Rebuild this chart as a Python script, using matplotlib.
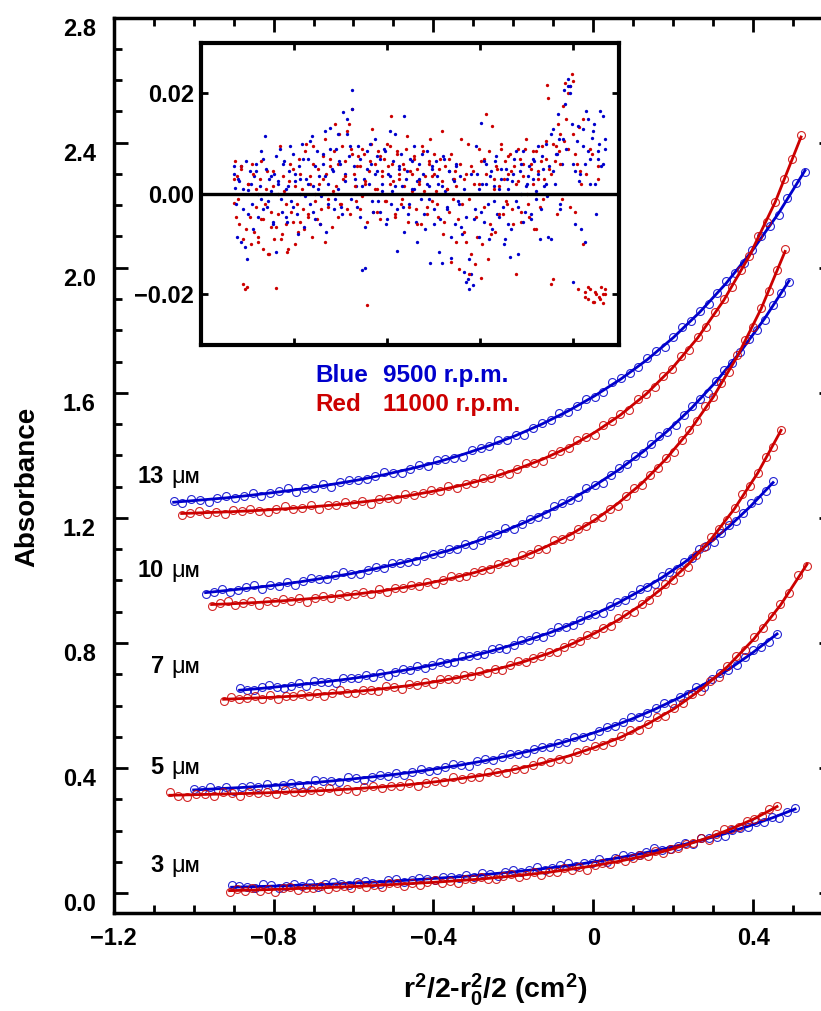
import matplotlib
matplotlib.use('Agg')
import matplotlib.pyplot as plt
from matplotlib.ticker import MultipleLocator
import numpy as np

plt.rcParams['font.family'] = ['Liberation Sans', 'DejaVu Sans']
plt.rcParams['font.weight'] = 'bold'
plt.rcParams['mathtext.fontset'] = 'custom'
plt.rcParams['mathtext.rm'] = 'Liberation Sans:bold'
plt.rcParams['mathtext.it'] = 'Liberation Sans:bold'
plt.rcParams['mathtext.bf'] = 'Liberation Sans:bold'

BLUE = '#0000CC'
RED = '#CC0000'

# ---- data (absorbance x1000), x = r^2/2 - r0^2/2 (cm^2) ----
# blue = 9500 rpm, red = 11000 rpm
b13_span = (-1.05, 0.53)
b13_fit = [1250, 1257, 1264, 1273, 1283, 1294, 1307, 1321, 1338, 1357, 1378, 1403, 1431,
           1463, 1500, 1542, 1590, 1644, 1706, 1777, 1858, 1950, 2055, 2175, 2311]
b13_pts = [1253, 1248, 1261, 1256, 1252, 1264, 1269, 1264, 1270, 1281, 1271, 1278, 1287,
           1294, 1284, 1295, 1295, 1308, 1299, 1314, 1322, 1320, 1323, 1335, 1347, 1342,
           1345, 1357, 1368, 1366, 1385, 1387, 1392, 1396, 1417, 1424, 1430, 1448, 1448,
           1466, 1466, 1488, 1504, 1512, 1535, 1537, 1559, 1579, 1587, 1602, 1634, 1646,
           1664, 1681, 1712, 1733, 1746, 1777, 1809, 1829, 1862, 1883, 1920, 1957, 1982,
           2015, 2057, 2101, 2134, 2167, 2223, 2271, 2307]

b10_span = (-0.97, 0.49)
b10_fit = [961, 969, 977, 986, 997, 1009, 1022, 1038, 1055, 1074, 1096, 1121, 1149, 1181,
           1217, 1257, 1303, 1354, 1412, 1478, 1552, 1636, 1731, 1838, 1958]
b10_pts = [958, 964, 974, 964, 970, 978, 984, 974, 984, 983, 995, 985, 999, 1007, 1004,
           1005, 1016, 1027, 1020, 1021, 1033, 1042, 1039, 1056, 1056, 1058, 1061, 1079,
           1083, 1088, 1102, 1100, 1116, 1112, 1130, 1144, 1147, 1167, 1165, 1182, 1198,
           1202, 1211, 1238, 1246, 1256, 1268, 1294, 1306, 1313, 1337, 1359, 1371, 1397,
           1406, 1435, 1463, 1475, 1498, 1529, 1558, 1579, 1600, 1639, 1673, 1695, 1731,
           1773, 1800, 1833, 1882, 1919, 1955]

b7_span = (-0.885, 0.45)
b7_fit = [649, 655, 662, 669, 677, 686, 696, 708, 720, 734, 750, 768, 788, 810, 834, 862,
          893, 927, 966, 1009, 1057, 1111, 1171, 1238, 1313]
b7_pts = [655, 650, 649, 658, 666, 658, 656, 664, 671, 664, 679, 675, 674, 673, 688, 688,
          688, 699, 692, 703, 695, 708, 716, 714, 727, 720, 730, 739, 736, 739, 758, 758,
          761, 764, 781, 784, 781, 795, 808, 808, 822, 820, 835, 850, 850, 857, 874, 889,
          892, 896, 919, 932, 936, 953, 972, 978, 990, 1013, 1026, 1038, 1060, 1071, 1099,
          1110, 1124, 1153, 1176, 1190, 1216, 1246, 1258, 1286, 1317]

b5_span = (-1.0, 0.46)
b5_fit = [330, 334, 338, 343, 348, 354, 361, 369, 377, 387, 398, 410, 424, 440, 458, 478,
          501, 527, 556, 589, 626, 668, 715, 769, 829]
b5_pts = [332, 330, 339, 330, 338, 328, 338, 344, 339, 350, 340, 347, 353, 347, 346, 362,
          358, 358, 357, 370, 369, 362, 372, 379, 375, 384, 378, 388, 398, 391, 393, 404,
          412, 409, 407, 422, 429, 425, 435, 446, 444, 447, 462, 466, 468, 481, 482, 499,
          500, 503, 520, 532, 534, 546, 564, 562, 576, 593, 608, 608, 627, 637, 659, 660,
          686, 705, 714, 729, 754, 778, 787, 803, 829]

b3_span = (-0.905, 0.505)
b3_fit = [19, 21, 23, 26, 28, 32, 35, 39, 44, 49, 54, 61, 68, 76, 85, 95, 107, 120, 135,
          151, 169, 190, 214, 240, 269]
b3_pts = [27, 22, 19, 17, 28, 25, 16, 24, 30, 24, 31, 21, 29, 36, 28, 27, 35, 40, 34, 28,
          41, 44, 37, 42, 50, 44, 42, 53, 52, 49, 57, 52, 65, 60, 56, 68, 73, 68, 73, 84,
          74, 80, 89, 95, 86, 96, 96, 108, 99, 113, 122, 119, 121, 133, 144, 138, 140, 151,
          161, 158, 176, 177, 180, 183, 203, 208, 213, 229, 227, 243, 241, 259, 273]

r13_span = (-1.03, 0.52)
r13_fit = [1214, 1217, 1220, 1224, 1229, 1235, 1242, 1251, 1261, 1274, 1289, 1307, 1329,
           1356, 1388, 1426, 1473, 1529, 1596, 1678, 1776, 1895, 2038, 2210, 2418]
r13_pts = [1209, 1217, 1223, 1214, 1218, 1211, 1224, 1222, 1229, 1222, 1220, 1230, 1237,
           1227, 1233, 1240, 1230, 1242, 1241, 1251, 1245, 1255, 1245, 1259, 1264, 1260,
           1277, 1272, 1279, 1289, 1285, 1303, 1295, 1309, 1313, 1326, 1326, 1344, 1340,
           1357, 1376, 1375, 1383, 1404, 1413, 1422, 1448, 1459, 1465, 1497, 1509, 1532,
           1545, 1581, 1596, 1620, 1655, 1676, 1719, 1738, 1777, 1809, 1858, 1901, 1939,
           1992, 2037, 2100, 2147, 2210, 2283, 2346, 2425]

r10_span = (-0.955, 0.48)
r10_fit = [923, 926, 930, 935, 941, 948, 956, 965, 977, 990, 1006, 1025, 1048, 1075, 1108,
           1146, 1191, 1246, 1310, 1387, 1478, 1587, 1716, 1869, 2052]
r10_pts = [917, 927, 933, 922, 927, 934, 923, 934, 932, 941, 934, 943, 932, 944, 949, 943,
           958, 951, 956, 964, 958, 973, 963, 975, 976, 985, 983, 996, 988, 1002, 1015,
           1010, 1014, 1028, 1033, 1036, 1054, 1059, 1058, 1080, 1085, 1100, 1102, 1128,
           1133, 1143, 1165, 1174, 1199, 1204, 1229, 1239, 1270, 1295, 1306, 1338, 1360,
           1392, 1411, 1448, 1482, 1511, 1558, 1585, 1631, 1668, 1722, 1770, 1810, 1871,
           1925, 1993, 2059]

r7_span = (-0.925, 0.47)
r7_fit = [620, 623, 626, 630, 635, 641, 647, 655, 664, 675, 688, 703, 721, 742, 767, 797,
          832, 874, 923, 982, 1051, 1133, 1230, 1344, 1480]
r7_pts = [615, 628, 620, 623, 629, 621, 634, 621, 631, 629, 636, 630, 641, 630, 640, 650,
          641, 640, 650, 650, 648, 661, 660, 653, 669, 667, 674, 669, 686, 684, 685, 697,
          696, 711, 704, 716, 714, 731, 741, 738, 752, 758, 772, 771, 787, 801, 806, 827,
          830, 847, 855, 880, 893, 899, 925, 938, 964, 989, 1002, 1028, 1043, 1082, 1107,
          1139, 1163, 1192, 1233, 1276, 1302, 1344, 1394, 1428, 1482]

r5_span = (-1.06, 0.535)
r5_fit = [313, 315, 317, 319, 322, 325, 329, 334, 340, 347, 356, 367, 380, 396, 415, 438,
          466, 499, 541, 590, 651, 724, 813, 921, 1052]
r5_pts = [322, 312, 309, 318, 316, 312, 323, 320, 310, 324, 319, 324, 316, 330, 324, 322,
          330, 326, 337, 326, 333, 327, 339, 344, 336, 344, 344, 352, 344, 353, 360, 357,
          370, 365, 372, 371, 386, 388, 383, 398, 397, 411, 422, 420, 430, 430, 451, 458,
          472, 475, 482, 502, 521, 523, 541, 562, 567, 592, 609, 637, 648, 679, 691, 725,
          757, 778, 820, 847, 885, 926, 961, 1016, 1046]

r3_span = (-0.91, 0.46)
r3_fit = [8, 10, 12, 15, 17, 20, 23, 27, 31, 35, 40, 45, 52, 59, 67, 77, 88, 101, 116, 133,
          154, 178, 206, 238, 277]
r3_pts = [5, 13, 7, 18, 6, 12, 5, 16, 20, 11, 18, 15, 22, 12, 19, 24, 18, 29, 21, 25, 21,
          33, 31, 22, 33, 27, 36, 42, 34, 38, 32, 46, 44, 51, 45, 44, 55, 62, 53, 59, 67,
          57, 69, 69, 80, 74, 85, 75, 89, 95, 92, 108, 104, 111, 121, 118, 135, 127, 142,
          146, 158, 159, 176, 171, 188, 206, 204, 212, 230, 238, 247, 270, 279]

conc_labels = ['13', '10', '7', '5', '3']

# residuals (absorbance x 10^4) across the cell, radius 6.735 - 7.135 cm
res_span = (6.735, 7.135)
blue_res = [40, 12, -85, 25, 55, -30, -105, -130, 8, 45,
            -20, 35, 60, -45, 15, -10, 70, 116, -25, 30,
            5, -60, 40, -115, 20, 90, -35, 65, 10, -55,
            45, -15, 80, 25, -40, 55, 0, 100, -65, 30,
            70, -20, 115, 15, -50, 85, 35, -5, 60, 125,
            -75, 20, 132, 50, -30, 90, 10, 65, -25, 164,
            40, 120, 75, -10, 206, 55, 15, 95, -45, -151,
            30, -148, 85, 20, 60, -35, 110, 45, -15, 70,
            5, 90, -60, 40, 125, -20, 65, 15, -113, 50,
            80, -25, 156, 30, -40, 70, 10, 95, -55, 25,
            60, -10, 40, -70, 85, 15, -137, 50, -30, 65,
            20, -50, -137, 75, 5, -25, 45, -128, 30, -60,
            55, -15, 35, -80, 10, -45, -170, -190, -160, -182,
            -30, 40, -85, 142, 20, -55, 60, -20, 35, -70,
            15, 65, -40, 10, 50, -25, -90, 30, -60, -125,
            25, 70, -15, -120, 45, 0, 85, -35, 20, 55,
            -50, 30, 65, -10, 40, -90, 75, 15, 100, -5,
            55, -90, 130, 20, 80, 110, -30, 60, 206, 90,
            228, 215, 140, -175, 45, 105, 25, -70, 130, 60,
            166, 85, 20, 112, 140, -40, 70, 100, 55, 156,
            90]
blue_res2 = [55, -20, 30, -95, 10, 65, -40, 20, -70, 45,
             0, 85, -30, 50, -15, 35, -55, 75, 25, -10,
             60, -45, 15, 95, -25, 40, -80, 30, 70, -5,
             20, 105, -35, 55, 10, -60, 80, 35, -20, 90,
             45, -10, 120, 60, -40, 25, 150, 95, 170, 30,
             -25, 70, 15, -65, 50, 100, -15, 40, 75, -35,
             20, 85, -50, 35, 5, 120, -30, 55, 15, -75,
             45, -20, 65, 10, -95, 30, 80, -40, 20, -10,
             55, -60, 35, -115, 15, 70, -30, 45, -85, 25,
             60, -20, -65, -155, -175, -130, 40, -50, 95, 10,
             -35, 65, 20, -90, 45, -15, 75, -45, 30, -100,
             50, 10, -70, 40, 85, -25, 60, -55, 15, 35,
             -40, 70, 5, 95, -30, 50, 20, -85, 120, 45,
             80, 160, -20, 110, 180, 215, 200, 60, -60, 135,
             40, 95, -95, 150, 70, 125, 20, 85, 165, 60,
             110]
red_res = [-18, 66, 35, -60, 50, -90, -190, -185, 20, -45,
           60, -75, 10, -95, 30, -50, -110, -20, 45, -120,
           -65, 15, -90, -187, -40, 96, -80, 5, -60, -115,
           25, -35, 50, -100, -20, 70, -55, 10, -70, 100,
           -40, 35, -85, 60, 0, -50, 20, -30, 75, -95,
           40, -10, 55, -65, 85, 15, -45, 120, -20, 30,
           65, -30, 140, 90, 170, 40, -15, 75, 55, -5,
           80, 20, -220, 45, 100, -35, 60, 10, 85, -50,
           35, 70, -15, 55, 95, 155, 25, -40, 80, 40,
           -20, 60, 15, 90, -55, 45, 5, 75, -30, 50,
           20, -60, 85, 35, -25, 65, 110, -15, 40, 5,
           -45, 70, 25, -80, 55, 10, -35, 80, -10, 45,
           15, -50, 60, -20, 30, -95, 100, -10, -120, 45,
           -140, -85, 20, -167, -100, 70, 160, -130, -60, 136,
           30, -75, 50, 15, 90, -40, 65, -20, 40, 80,
           -30, 55, -160, 25, 70, -55, 35, 90, 0, -45,
           60, 20, -70, 85, 45, -25, 95, 30, 70, 217,
           50, -180, 100, 65, -40, 85, 120, -10, 105, 150,
           90, 215, 239, 225, -35, 60, 133, 20, -100, -195,
           40, -210, -190, 80, -215, -200, 55, -205, -185, -217,
           -200]
red_res2 = [30, -45, -10, 55, -180, -70, 20, -100, 40, -25,
            -85, 65, -50, 10, -120, -35, 45, -65, 0, -90,
            35, -20, -110, 60, -55, 15, -75, 40, -30, 85,
            -45, 20, 95, -15, 50, -60, 30, 110, -25, 70,
            5, 140, 60, -20, 95, 35, 125, -40, 80, 15,
            55, -30, 90, 25, -55, 65, 130, 10, -35, 75,
            45, -15, 100, 20, 60, -45, 85, 30, -10, 50,
            115, -25, 40, 70, -60, 25, 95, 5, -40, 60,
            35, 80, -20, 50, 125, -55, 10, 70, -135, 30,
            -95, -150, 110, -75, 40, -160, 55, 20, -45, 90,
            65, -25, 40, 85, -80, 10, 55, -40, 100, 30,
            -15, 75, 45, -60, 20, 90, -35, 60, 110, -20,
            50, 85, -70, 30, 65, -10, 105, 190, 40, -170,
            95, 140, 60, 175, 220, 200, -25, 120, 80, -190,
            45, 150, -205, -185, 90, -215, -195, 30, -210, -200,
            -190]

W, H = 821, 1011
fig = plt.figure(figsize=(W / 100, H / 100), dpi=100)
ax = fig.add_axes([0.13849, 0.09644, 0.87613, 0.88625])


def draw_scan(span, pts, fit, color):
    xp = np.linspace(span[0], span[1], len(pts))
    xf = np.linspace(span[0], span[1], len(fit))
    ax.plot(xp, np.array(pts) / 1000, 'o', ls='none', ms=5.7, mfc='none',
            mec=color, mew=0.8, alpha=0.85)
    ax.plot(xf, np.array(fit) / 1000, '-', color=color, lw=2.0)


draw_scan(b13_span, b13_pts, b13_fit, BLUE)
draw_scan(r13_span, r13_pts, r13_fit, RED)
draw_scan(b10_span, b10_pts, b10_fit, BLUE)
draw_scan(r10_span, r10_pts, r10_fit, RED)
draw_scan(b7_span, b7_pts, b7_fit, BLUE)
draw_scan(r7_span, r7_pts, r7_fit, RED)
draw_scan(b5_span, b5_pts, b5_fit, BLUE)
draw_scan(r5_span, r5_pts, r5_fit, RED)
draw_scan(b3_span, b3_pts, b3_fit, BLUE)
draw_scan(r3_span, r3_pts, r3_fit, RED)

ax.set_xlim(-1.2, 0.6)
ax.set_ylim(-0.065, 2.8)
ax.set_xticks([-1.2, -0.8, -0.4, 0, 0.4])
ax.set_xticklabels(['\u22121.2', '\u22120.8', '\u22120.4', '0', '0.4'])
ax.set_yticks([0, 0.4, 0.8, 1.2, 1.6, 2.0, 2.4, 2.8])
ax.set_yticklabels(['0.0', '0.4', '0.8', '1.2', '1.6', '2.0', '2.4', '2.8'])
ax.xaxis.set_minor_locator(MultipleLocator(0.1))
ax.yaxis.set_minor_locator(MultipleLocator(0.1))
ax.tick_params(which='both', direction='in', top=True, right=True, width=2)
ax.tick_params(which='major', length=10, labelsize=17)
ax.tick_params(which='minor', length=5.5)
ax.tick_params(axis='x', pad=10)
ax.tick_params(axis='y', pad=13)
for t in ax.get_yticklabels():
    t.set_va('top')
for s in ax.spines.values():
    s.set_linewidth(2.5)

# concentration labels
label_y = [1.3104, 1.0096, 0.7056, 0.3824, 0.0688]
for lab, yb in zip(conc_labels, label_y):
    ax.text(-1.075, yb, lab, ha='right', va='baseline', fontsize=17, fontweight='bold')
    ax.text(-1.055, yb, '\u03bc', ha='left', va='baseline', fontsize=17, fontweight='normal')
    ax.text(-1.0225, yb, 'M', ha='left', va='baseline', fontsize=12.5, fontweight='bold')

# speed legend
ax.text(-0.695, 1.6346, 'Blue', color=BLUE, fontsize=17.5, fontweight='bold', va='baseline')
ax.text(-0.525, 1.6346, '9500 r.p.m.', color=BLUE, fontsize=17.5, fontweight='bold', va='baseline')
ax.text(-0.695, 1.5408, 'Red', color=RED, fontsize=17.5, fontweight='bold', va='baseline')
ax.text(-0.525, 1.5408, '11000 r.p.m.', color=RED, fontsize=17.5, fontweight='bold', va='baseline')

fig.text(27 / W, 1 - 486.5 / H, 'Absorbance', rotation=90, ha='center', va='center',
         fontsize=20, fontweight='bold')
fig.text(403 / W, 1 - 998 / H, r'r$^2$/2-r$_0^2$/2 (cm$^2$)', ha='left', va='baseline',
         fontsize=20.5, fontweight='bold')

# residuals inset
ax2 = fig.add_axes([0.24482, 0.65905, 0.50914, 0.29871])
for res, col in [(red_res, RED), (blue_res, BLUE), (red_res2, RED), (blue_res2, BLUE)]:
    xr = np.linspace(res_span[0], res_span[1], len(res))
    ax2.plot(xr, np.array(res) / 1e4, 'o', ls='none', ms=2.4, mew=0, color=col)
ax2.axhline(0, color='black', lw=2.4)
ax2.set_xlim(6.70, 7.15)
ax2.set_ylim(-0.030, 0.0301)
ax2.set_xticks([6.8, 6.9, 7.0, 7.1])
ax2.set_xticklabels([])
ax2.set_yticks([-0.02, 0.0, 0.02])
ax2.set_yticklabels(['\u22120.02', '0.00', '0.02'])
ax2.tick_params(which='both', direction='in', top=True, right=True, width=2, length=5,
                labelsize=17, pad=5)
for s in ax2.spines.values():
    s.set_linewidth(3)

fig.savefig('out.png', dpi=100)
